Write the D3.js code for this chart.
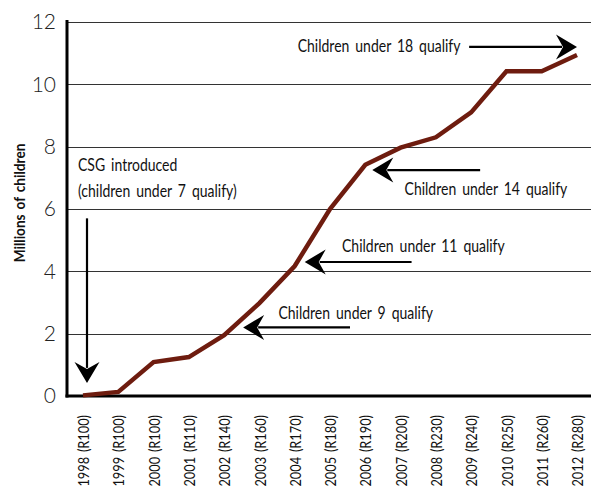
<!DOCTYPE html>
<html>
<head>
<meta charset="utf-8">
<script src="https://cdn.jsdelivr.net/npm/d3@7"></script>
<style>
  body { margin: 0; background: #fff; }
  svg { display: block; }
</style>
</head>
<body>
<svg id="chart"></svg>
<script>
const years = ['1998', '1999', '2000', '2001', '2002', '2003', '2004', '2005', '2006', '2007', '2008', '2009', '2010', '2011', '2012'];
const grantAmounts = ['R100', 'R100', 'R100', 'R110', 'R140', 'R160', 'R170', 'R180', 'R190', 'R200', 'R230', 'R240', 'R250', 'R260', 'R280'];
const children = [0.02, 0.13, 1.09, 1.25, 1.95, 2.98, 4.17, 6.0, 7.42, 7.97, 8.3, 9.1, 10.42, 10.42, 10.94];
const yTicks = [0, 2, 4, 6, 8, 10, 12];

// annotation text: anchored at [year, value] plus a pixel nudge
const noteTexts = [
  { lines: ['Children under 18 qualify'], year: '2004', value: 11.04, dx: 3 },
  { lines: ['CSG introduced', '(children under 7 qualify)'], year: '1998', value: 7.22, dx: -5 },
  { lines: ['Children under 14 qualify'], year: '2007', value: 6.45, dx: 4 },
  { lines: ['Children under 11 qualify'], year: '2005', value: 4.62, dx: 12 },
  { lines: ['Children under 9 qualify'], year: '2003', value: 2.47, dx: 19 },
];
// arrows: from [year, value] to tip [year, value], with pixel nudges
const noteArrows = [
  { from: ['2009', 11.2], to: ['2012', 11.2], dx1: -2, dx2: 0 },
  { from: ['1998', 5.7], to: ['1998', 0.42], dx1: 4, dx2: 4 },
  { from: ['2009', 7.25], to: ['2006', 7.25], dx1: 9, dx2: 7 },
  { from: ['2007', 4.3], to: ['2004', 4.3], dx1: 11, dx2: 10 },
  { from: ['2005', 2.2], to: ['2002', 2.2], dx1: 20, dx2: 19 },
];

const WIDTH = 591;
const HEIGHT = 491;
const LEFT = 67;
const TOP = 22;
const BOTTOM = 396;
const NARROW = 'Lato, sans-serif';

const svg = d3.select('#chart').attr('width', WIDTH).attr('height', HEIGHT);

const x = d3.scalePoint(years, [83, 577]);
const y = d3.scaleLinear([0, 12], [BOTTOM, TOP]);

// gridlines
svg.append('g')
  .selectAll('line')
  .data(yTicks.filter((d) => d > 0))
  .join('line')
  .attr('x1', LEFT)
  .attr('x2', WIDTH)
  .attr('y1', (d) => Math.round(y(d)) + 0.5)
  .attr('y2', (d) => Math.round(y(d)) + 0.5)
  .attr('stroke', '#333')
  .attr('stroke-width', 1);

// y axis labels
const yAxis = svg.append('g').attr('transform', `translate(${LEFT},0)`)
  .call(d3.axisLeft(y).tickValues(yTicks).tickSize(0).tickPadding(11));
yAxis.select('.domain').remove();
yAxis.selectAll('text')
  .attr('font-family', 'Lato, sans-serif')
  .attr('font-weight', 300)
  .attr('font-size', 21)
  .attr('fill', '#222');

// x axis labels
const xAxis = svg.append('g').attr('transform', `translate(0,${BOTTOM})`)
  .call(d3.axisBottom(x).tickSize(0).tickPadding(0).tickFormat((d, i) => `${d} (${grantAmounts[i]})`));
xAxis.select('.domain').remove();
xAxis.selectAll('text')
  .attr('font-family', NARROW)
  .attr('font-size', 16)
  .attr('fill', '#111')
  .attr('text-anchor', 'end')
  .attr('dy', '0.35em')
  .attr('y', 0)
  .attr('word-spacing', 2)
  .attr('transform', 'translate(0,19) rotate(-90) scale(0.8,1)');

// axis lines
svg.append('line').attr('x1', LEFT).attr('x2', LEFT).attr('y1', TOP - 2).attr('y2', BOTTOM + 1.5)
  .attr('stroke', '#000').attr('stroke-width', 3);
svg.append('line').attr('x1', LEFT - 1.5).attr('x2', WIDTH).attr('y1', BOTTOM).attr('y2', BOTTOM)
  .attr('stroke', '#000').attr('stroke-width', 3);

// y title
svg.append('text')
  .attr('transform', 'translate(25,203) rotate(-90) scale(0.85,1)')
  .attr('text-anchor', 'middle')
  .attr('font-family', NARROW)
  .attr('font-weight', 'bold')
  .attr('font-size', 16)
  .attr('word-spacing', 2)
  .attr('fill', '#111')
  .text('Millions of children');

// data line
svg.append('path')
  .datum(children)
  .attr('fill', 'none')
  .attr('stroke', '#6e1c0f')
  .attr('stroke-width', 4.5)
  .attr('stroke-linejoin', 'miter')
  .attr('d', d3.line().x((d, i) => x(years[i])).y((d) => y(d)));

// arrows
const arrowHead = (tx, ty, angle) => {
  const p = d3.path();
  p.moveTo(0, 0);
  p.lineTo(-21, -12.5);
  p.lineTo(-14, 0);
  p.lineTo(-21, 12.5);
  p.closePath();
  svg.append('path').attr('d', p.toString()).attr('fill', '#000')
    .attr('transform', `translate(${tx},${ty}) rotate(${angle})`);
};

noteArrows.forEach((a) => {
  const x1 = x(a.from[0]) + a.dx1;
  const y1 = y(a.from[1]);
  const x2 = x(a.to[0]) + a.dx2;
  const y2 = y(a.to[1]);
  const rad = Math.atan2(y2 - y1, x2 - x1);
  svg.append('line')
    .attr('x1', x1).attr('y1', y1)
    .attr('x2', x2 - 15 * Math.cos(rad))
    .attr('y2', y2 - 15 * Math.sin(rad))
    .attr('stroke', '#000').attr('stroke-width', 2.2);
  arrowHead(x2, y2, (rad * 180) / Math.PI);
});

// annotation text
noteTexts.forEach((n) => {
  const t = svg.append('text')
    .attr('transform', `translate(${x(n.year) + n.dx},${y(n.value)}) scale(0.8,1)`)
    .attr('font-family', NARROW)
    .attr('font-size', 17.5)
    .attr('word-spacing', 3)
    .attr('fill', '#111');
  n.lines.forEach((l, i) => {
    t.append('tspan').attr('x', 0).attr('y', i * 26).text(l);
  });
});
</script>
</body>
</html>
